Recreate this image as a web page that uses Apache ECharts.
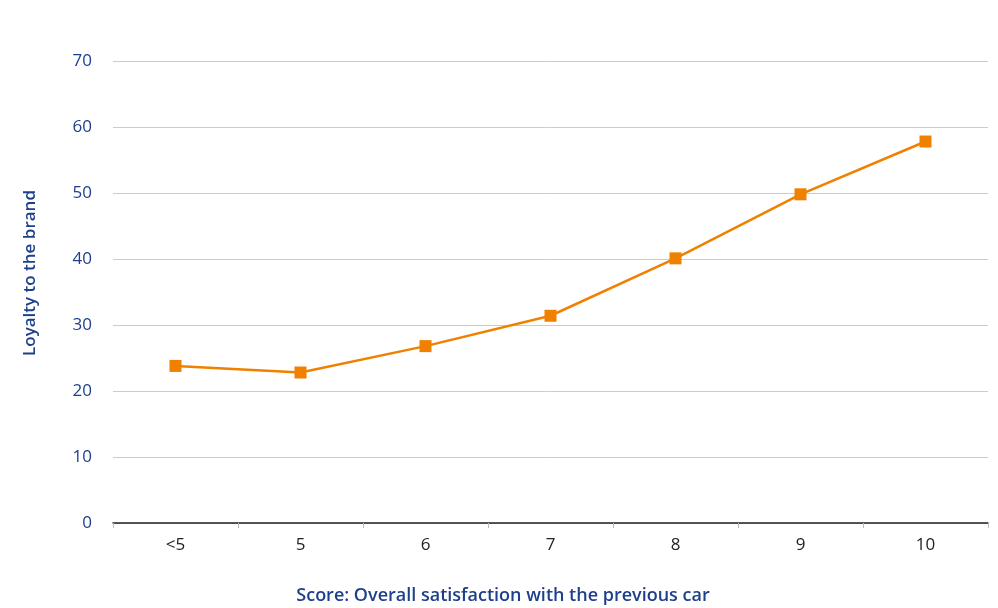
<!DOCTYPE html>
<html>
<head>
<meta charset="utf-8">
<script src="https://cdn.jsdelivr.net/npm/echarts@6/dist/echarts.min.js"></script>
<style>
html, body { margin: 0; padding: 0; background: #fff; }
#chart { width: 998px; height: 608px; }
</style>
</head>
<body>
<div id="chart"></div>
<script>
// categories on the x axis
var categories = ['<5', '5', '6', '7', '8', '9', '10']
// loyalty values
var loyalty = [23.8, 22.8, 26.8, 31.4, 40.1, 49.8, 57.8]
var yTicks = [0, 10, 20, 30, 40, 50, 60, 70]

var blue = '#1e3f8c'
var orange = '#f08000'

var chart = echarts.init(document.getElementById('chart'))
chart.setOption({
  backgroundColor: '#fff',
  animation: false,
  grid: { left: 113, right: 10, top: 61, bottom: 85, containLabel: false },
  xAxis: {
    type: 'category',
    data: categories,
    boundaryGap: true,
    axisLine: { lineStyle: { color: '#222', width: 1.5 } },
    axisTick: { show: true, length: 5, lineStyle: { color: '#bbb' } },
    axisLabel: { color: '#222', fontSize: 17, margin: 14, fontFamily: 'Open Sans' }
  },
  yAxis: {
    type: 'value',
    min: yTicks[0],
    max: yTicks[yTicks.length - 1],
    interval: 10,
    axisLine: { show: false },
    axisTick: { show: false },
    axisLabel: { color: blue, fontSize: 17, margin: 21, fontFamily: 'Open Sans' },
    splitLine: { lineStyle: { color: '#cccccc', width: 1 } }
  },
  graphic: [
    {
      type: 'text',
      x: 503,
      y: 596,
      style: {
        text: 'Score: Overall satisfaction with the previous car',
        fill: blue,
        font: '600 18px "Open Sans"',
        textAlign: 'center',
        textVerticalAlign: 'middle'
      }
    },
    {
      type: 'text',
      x: 30,
      y: 273,
      rotation: Math.PI / 2,
      style: {
        text: 'Loyalty to the brand',
        fill: blue,
        font: '600 17px "Open Sans"',
        textAlign: 'center',
        textVerticalAlign: 'middle'
      }
    }
  ],
  series: [{
    type: 'line',
    data: loyalty,
    symbol: 'rect',
    symbolSize: 12,
    lineStyle: { color: orange, width: 2.5 },
    itemStyle: { color: orange }
  }]
})
</script>
</body>
</html>
